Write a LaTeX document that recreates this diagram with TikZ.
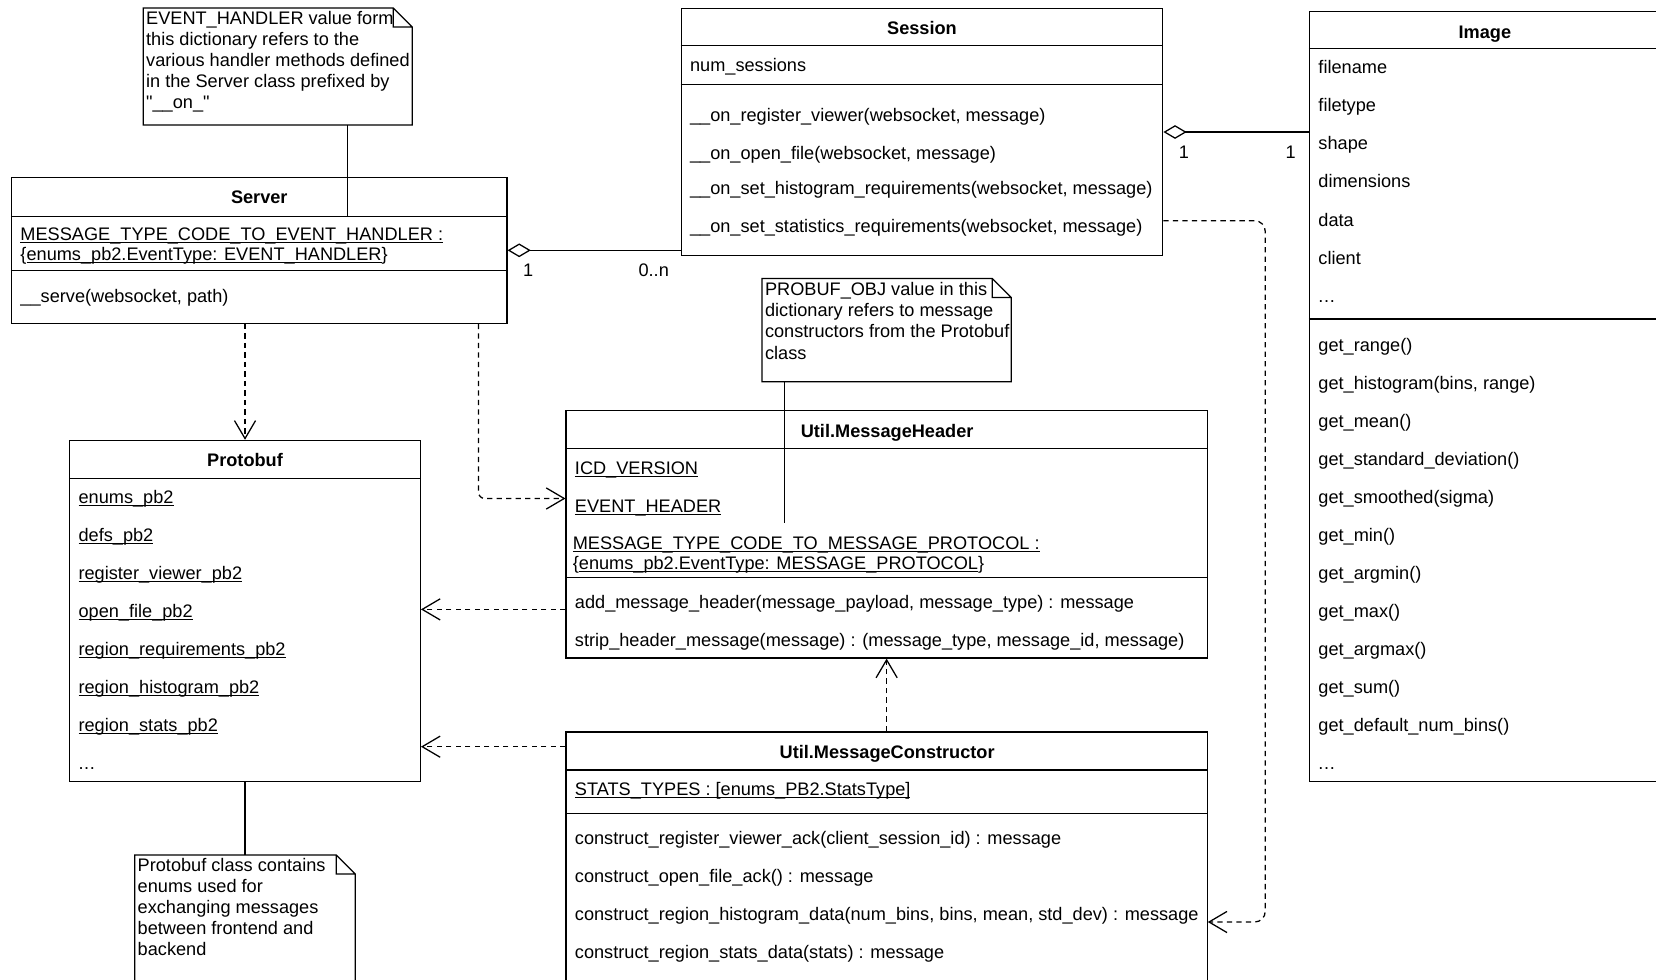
\documentclass[tikz,border=0pt]{standalone}
\usepackage{fontspec}
\setmainfont{Liberation Sans}
\newfontfamily\umlfont{Liberation Sans}
\usetikzlibrary{arrows.meta}

\newsavebox\undlbox
\newcommand\undl[1]{\sbox\undlbox{#1}\rlap{\rule[-1.1pt]{\wd\undlbox}{0.4pt}}\usebox\undlbox}
\newcommand\moredots{.\kern0.3pt.\kern0.3pt.}

\begin{document}
\begin{tikzpicture}[x=0.5pt, y=-0.5pt, font=\umlfont\fontsize{8.6}{10}\selectfont,
		cls/.style 2 args={draw, line width=0.6pt, inner sep=0pt, minimum width=#1*0.5pt, minimum height=#2*0.5pt},
		notebox/.style 2 args={inner sep=0pt, minimum width=#1*0.5pt, minimum height=#2*0.5pt},
		txt/.style={anchor=base west, inner sep=0pt},
		ttl/.style={anchor=base, inner sep=0pt, font=\umlfont\fontsize{8.6}{10}\selectfont\bfseries},
		ln/.style={line width=0.6pt},
		agg/.style={line width=0.6pt, {Diamond[open,length=11pt,width=6.5pt]}-},
		dep/.style={line width=0.6pt, dash pattern=on 2.5pt off 2pt, -{Straight Barb[length=8.5pt,width=10pt]}}]
		\path[use as bounding box, fill=white] (0,0) rectangle (1568,927);
		\clip (0,0) rectangle (1568,927);
		
		% boxes
		\node[notebox={254}{110}] (noteA) at (263,63) {};
		\node[cls={469}{138}] (server) at (245.5,237) {};
		\node[cls={456}{234}] (session) at (873,125) {};
		\node[cls={332}{729}] (image) at (1406,375.5) {};
		\node[notebox={235}{97}] (noteB) at (839.5,312.5) {};
		\node[cls={332}{323}] (protobuf) at (232,578.5) {};
		\node[cls={607}{234}] (header) at (839.5,506) {};
		\node[cls={607}{247}] (constr) at (839.5,816.5) {};
		\node[notebox={208}{130}] (noteC) at (232,875) {};
		
		\foreach \n in {noteA,noteB,noteC}
		\draw[ln] (\n.south west) -- (\n.north west) -- ([xshift=-9pt]\n.north east) -- ([yshift=-9pt]\n.north east) -- (\n.south east) -- cycle
		([xshift=-9pt]\n.north east) -- ([xshift=-9pt,yshift=-9pt]\n.north east) -- ([yshift=-9pt]\n.north east);
		
		\foreach \b/\y in {server/205, server/256, session/43, session/80, image/46, image/302, protobuf/453, header/425, header/547, constr/729, constr/770}
		\draw[ln] (\b.west |- 0,\y) -- (\b.east |- 0,\y);
		
		% notes
		\foreach \t [count=\i] in {EVENT\_HANDLER value form, this dictionary refers to the, various handler methods defined, in the Server class prefixed by, "\_\_on\_"}
		\node[txt] (noteA\i) at (138,3+20*\i) {\t};
		\foreach \t [count=\i] in {PROBUF\_OBJ value in this, dictionary refers to message, constructors from the Protobuf, class}
		\node[txt] (noteB\i) at (724,260+20*\i) {\t};
		\foreach \t [count=\i] in {Protobuf class contains, enums used for, exchanging messages, between frontend and, backend}
		\node[txt] (noteC\i) at (130,805+20*\i) {\t};
		
		% Server
		\node[ttl] (serverT) at (245.5,193) {Server};
		\node[txt] (serverA1) at (19,228) {\undl{MESSAGE\_TYPE\_CODE\_TO\_EVENT\_HANDLER :}};
		\node[txt] (serverA2) at (19,247) {\{\undl{enums\_pb2.EventType: EVENT\_HANDLER}\}};
		\node[txt] (serverM1) at (19,286) {\_\_serve(websocket, path)};
		
		% Session
		\node[ttl] (sessionT) at (873,33) {Session};
		\node[txt] (sessionA1) at (653,68) {num\_sessions};
		\foreach \y/\t [count=\i] in {115/{\_\_on\_register\_viewer(websocket, message)}, 151/{\_\_on\_open\_file(websocket, message)}, 184/{\_\_on\_set\_histogram\_requirements(websocket, message)}, 220/{\_\_on\_set\_statistics\_requirements(websocket, message)}}
		\node[txt] (sessionM\i) at (653,\y) {\t};
		
		% Image
		\node[ttl] (imageT) at (1406,36) {Image};
		\foreach \t [count=\i] in {filename, filetype, shape, dimensions, data, client, \moredots}
		\node[txt] (imageA\i) at (1248,34+36*\i) {\t};
		\foreach \t [count=\i] in {get\_range(), {get\_histogram(bins, range)}, get\_mean(), get\_standard\_deviation(), get\_smoothed(sigma), get\_min(), get\_argmin(), get\_max(), get\_argmax(), get\_sum(), get\_default\_num\_bins(), \moredots}
		\node[txt] (imageM\i) at (1248,297+36*\i) {\t};
		
		% Protobuf
		\node[ttl] (protobufT) at (232,442) {Protobuf};
		\foreach \t [count=\i] in {enums\_pb2, defs\_pb2, register\_viewer\_pb2, open\_file\_pb2, region\_requirements\_pb2, region\_histogram\_pb2, region\_stats\_pb2}
		\node[txt] (protobufA\i) at (74,441+36*\i) {\undl{\t}};
		\node[txt] (protobufA8) at (74,729) {\moredots};
		
		% Util.MessageHeader
		\node[ttl] (headerT) at (840,414) {Util.MessageHeader};
		\node[txt] (headerA1) at (544,449) {\undl{ICD\_VERSION}};
		\node[txt] (headerA2) at (544,485) {\undl{EVENT\_HEADER}};
		\node[txt] (headerA3) at (542,520) {\undl{MESSAGE\_TYPE\_CODE\_TO\_MESSAGE\_PROTOCOL :}};
		\node[txt] (headerA4) at (542,539) {\{\undl{enums\_pb2.EventType: MESSAGE\_PROTOCOL}\}};
		\node[txt] (headerM1) at (544,576) {add\_message\_header(message\_payload, message\_type) : message};
		\node[txt] (headerM2) at (544,612) {strip\_header\_message(message) : (message\_type, message\_id, message)};
		
		% Util.MessageConstructor
		\node[ttl] (constrT) at (840,718) {Util.MessageConstructor};
		\node[txt] (constrA1) at (544,753) {\undl{STATS\_TYPES : [enums\_PB2.StatsType]}};
		\node[txt] (constrM1) at (544,800) {construct\_register\_viewer\_ack(client\_session\_id) : message};
		\node[txt] (constrM2) at (544,836) {construct\_open\_file\_ack() : message};
		\node[txt] (constrM3) at (544,872) {construct\_region\_histogram\_data(num\_bins, bins, mean, std\_dev) : message};
		\node[txt] (constrM4) at (544,908) {construct\_region\_stats\_data(stats) : message};
		
		% multiplicities
		\node (mulA) at (500,256) {1};
		\node (mulB) at (619,256) {0..n};
		\node (mulC) at (1121,144) {1};
		\node (mulD) at (1222,144) {1};
		
		% connectors
		\coordinate (srvIn) at (329,205);
		\coordinate (hdrIn) at (743,495);
		\coordinate (bendA) at (453,472);
		\coordinate (hp) at (467,577);
		\coordinate (cp) at (467,707);
		\coordinate (bendB) at (1198,209);
		\coordinate (bendC) at (1198,873);
		\draw[ln] (noteA.south -| srvIn) -- (srvIn);
		\draw[ln] (noteB.south -| hdrIn) -- (hdrIn);
		\draw[ln] (protobuf.south) -- (noteC.north);
		\draw[agg] (server.east) -- (server.east -| session.west);
		\draw[agg] (session.east) -- (session.east -| image.west);
		\draw[dep] (server.south -| protobuf.north) -- (protobuf.north);
		\draw[dep, rounded corners=3pt] (server.south -| bendA) |- (header.west |- bendA);
		\draw[dep] (header.west |- hp) -- (protobuf.east |- hp);
		\draw[dep] (constr.west |- cp) -- (protobuf.east |- cp);
		\draw[dep] (constr.north) -- (header.south);
		\draw[dep, rounded corners=5pt] (session.east |- bendB) -- (bendB) -- (bendC) -- (constr.east |- bendC);
\end{tikzpicture}
\end{document}
